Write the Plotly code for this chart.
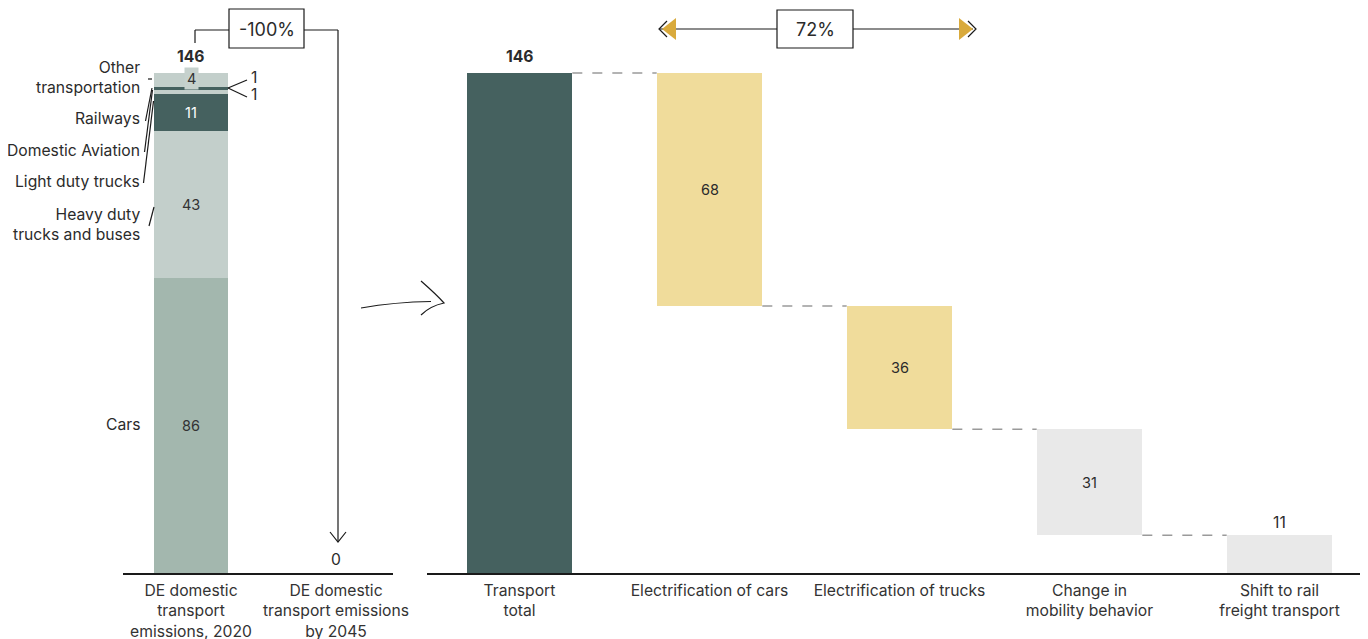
import plotly.graph_objects as go

# The page body adds an 8px offset; positions below are given in window pixels.
OFF = 8
W, H = 1368 - OFF, 639 - OFF
FIG_H = 639

# ---------------- data ----------------
left_categories = ["DE domestic<br>transport<br>emissions, 2020",
                   "DE domestic<br>transport emissions<br>by 2045"]
segment_names = ["Cars", "Heavy duty trucks and buses", "Light duty trucks",
                 "Domestic Aviation", "Railways", "Other transportation"]
segment_values = [86, 43, 11, 1, 1, 4]
segment_colors = ["#a3b7ae", "#c3cfcb", "#45615f", "#c3cfcb", "#45615f", "#c3cfcb"]
total_2020 = 146
total_2045 = 0

wf_categories = ["Transport<br>total", "Electrification of cars",
                 "Electrification of trucks", "Change in<br>mobility behavior",
                 "Shift to rail<br>freight transport"]
wf_values = [146, 68, 36, 31, 11]
wf_colors = ["#45615f", "#f0dc9b", "#f0dc9b", "#e9e9e9", "#e9e9e9"]
reduction_share = "72%"
reduction_total = "-100%"

# ---------------- helpers ----------------
def px(x):
    return min(max((x - OFF) / W, 0), 1)

def py(y):
    return min(max(1 - (y - OFF) / FIG_H, 0), 1)

TXT = "#2b2b2b"
FONT = "Inter"
FS = 15.7
fig = go.Figure()

# left stacked bar
base = 0
seg_bases = []
for v in segment_values:
    seg_bases.append(base)
    base += v
for name, v, b, c in zip(segment_names, segment_values, seg_bases, segment_colors):
    fig.add_trace(go.Bar(x=[0], y=[v], base=[b], width=0.517, marker_color=c,
                         marker_line_width=0, name=name, xaxis="x", yaxis="y",
                         hoverinfo="skip"))

# waterfall bars
wf_bases = [0]
level = wf_values[0]
for v in wf_values[1:]:
    level -= v
    wf_bases.append(level)
fig.add_trace(go.Bar(x=list(range(len(wf_values))), y=wf_values, base=wf_bases,
                     width=0.556, marker_color=wf_colors, marker_line_width=0,
                     xaxis="x2", yaxis="y2", hoverinfo="skip"))

ann = []
shapes = []

def text(x, y, t, xref="paper", yref="paper", xanchor="center", yanchor="middle",
         size=FS, color=TXT, align="center", **kw):
    d = dict(x=x, y=y, xref=xref, yref=yref, text=t, showarrow=False, xanchor=xanchor,
             yanchor=yanchor, align=align, font=dict(size=size, color=color, family=FONT))
    d.update(kw)
    ann.append(d)

# left segment labels
for i, (v, b) in enumerate(zip(segment_values, seg_bases)):
    if v < 2:
        continue
    col = "white" if segment_colors[i] == "#45615f" else "#333333"
    if i == len(segment_values) - 1:
        text(0, b + v / 2, str(v), "x", "y", color=col, size=14.5,
             bgcolor="#c6d1cd", borderpad=2, yshift=1)
    else:
        text(0, b + v / 2, str(v), "x", "y", color=col, size=14.5)
text(0, total_2020, "<b>146</b>", "x", "y", yanchor="bottom", yshift=5)
text(1, total_2045, str(total_2045), "x", "y", yanchor="bottom", yshift=2)

# left side labels (paper)
side_labels = [("Other<br>transportation", 77), ("Railways", 118), ("Domestic Aviation", 150),
               ("Light duty trucks", 182), ("Heavy duty<br>trucks and buses", 224), ("Cars", 424)]
for t, y in side_labels:
    text(px(142), py(y), t, xanchor="right", align="right")
for t, y in [("1", 77), ("1", 95)]:
    text(px(249), py(y), t, xanchor="left")

def line(x0, y0, x1, y1, color="#1a1a1a", width=1.2):
    shapes.append(dict(type="line", xref="paper", yref="paper", x0=px(x0), y0=py(y0),
                       x1=px(x1), y1=py(y1), line=dict(color=color, width=width)))

def path(points, closed=False, **kw):
    s = "M " + " L ".join("%f %f" % (px(a), py(b)) for a, b in points)
    if closed:
        s += " Z"
    d = dict(type="path", xref="paper", yref="paper", path=s)
    d.update(kw)
    shapes.append(d)

# leader lines
line(148, 79, 152, 79)
line(145.5, 121, 152, 88)
line(144.5, 152, 152.5, 90)
line(143.5, 183, 153.5, 101)
line(149, 226, 154, 207)
line(228, 88, 247, 80)
line(228, 88, 247, 97)

# waterfall labels
for i, (v, b) in enumerate(zip(wf_values, wf_bases)):
    if i == 0:
        text(i, v, "<b>%d</b>" % v, "x2", "y2", yanchor="bottom", yshift=5)
    elif i == len(wf_values) - 1:
        text(i, b + v, str(v), "x2", "y2", yanchor="bottom", yshift=1)
    else:
        text(i, b + v / 2, str(v), "x2", "y2", size=14.5)

# dashed connectors
hw = 0.556 / 2
for i in range(len(wf_values) - 1):
    lvl = wf_bases[i] if i > 0 else wf_values[0]
    shapes.append(dict(type="line", xref="x2", yref="y2", x0=i + hw, x1=i + 1 - hw,
                       y0=lvl, y1=lvl,
                       line=dict(color="#9a9a9a", width=1.5, dash="10px,10px")))

# -100% bracket
line(195, 43, 195, 30)
line(195, 30, 229, 30)
line(304, 30, 338, 30)
line(338, 30, 338, 542)
path([(330, 532), (338, 542), (346, 532)], line=dict(color="#1a1a1a", width=1.2))
shapes.append(dict(type="rect", xref="paper", yref="paper", x0=px(229), x1=px(304),
                   y0=py(48), y1=py(9), line=dict(color="#1a1a1a", width=1.2), fillcolor="white"))
text(px(266.5), py(29), reduction_total, size=18)

# 72% arrow
line(660, 29, 973, 29)
path([(662, 29), (676, 18), (676, 40)], closed=True, fillcolor="#d9aa3c", line=dict(width=0))
path([(973, 29), (959, 18), (959, 40)], closed=True, fillcolor="#d9aa3c", line=dict(width=0))
path([(667, 21), (659, 29), (667, 37)], line=dict(color="#1a1a1a", width=1.2))
path([(968, 21), (976, 29), (968, 37)], line=dict(color="#1a1a1a", width=1.2))
shapes.append(dict(type="rect", xref="paper", yref="paper", x0=px(777), x1=px(853),
                   y0=py(48), y1=py(10), line=dict(color="#1a1a1a", width=1.2), fillcolor="white"))
text(px(815), py(29), reduction_share, size=18)

# hand-drawn arrow
shapes.append(dict(type="path", xref="paper", yref="paper",
                   path="M %f %f Q %f %f %f %f" % (px(361), py(308), px(395), py(302), px(431), py(301.5)),
                   line=dict(color="#1a1a1a", width=1.2)))
shapes.append(dict(type="path", xref="paper", yref="paper",
                   path="M %f %f Q %f %f %f %f Q %f %f %f %f" % (
                       px(421), py(281), px(437), py(295), px(444), py(303),
                       px(430), py(306), px(421), py(315)),
                   line=dict(color="#1a1a1a", width=1.2)))

scale = 500 / 146          # pixels per unit
ybase = 573                # baseline pixel
ymax = (ybase - OFF) / scale
ydom = [1 - (ybase - OFF) / FIG_H, 1]
axis_common = dict(showgrid=False, zeroline=False, showline=True, linecolor="#1a1a1a",
                   linewidth=2, ticks="", tickfont=dict(size=FS, color="#333333", family=FONT),
                   fixedrange=True, automargin=False, ticklabelstandoff=2)
x2_left, x2_right = 427, 1363
x2_cat0, x2_step = 519.5, 190.0
fig.update_layout(
    width=W, height=FIG_H, autosize=False,
    margin=dict(l=0, r=0, t=0, b=0),
    paper_bgcolor="white", plot_bgcolor="white",
    barmode="overlay", showlegend=False, bargap=0,
    font=dict(family=FONT, color=TXT),
    xaxis=dict(domain=[px(123), px(393)], range=[-0.469, 1.393], tickvals=[0, 1],
               ticktext=left_categories, anchor="y", **axis_common),
    yaxis=dict(domain=ydom, range=[0, ymax], visible=False, anchor="x", fixedrange=True),
    xaxis2=dict(domain=[px(x2_left), px(x2_right)],
                range=[(x2_left - x2_cat0) / x2_step, (x2_right - x2_cat0) / x2_step],
                tickvals=list(range(5)), ticktext=wf_categories, anchor="y2", **axis_common),
    yaxis2=dict(domain=ydom, range=[0, ymax], visible=False, anchor="x2", fixedrange=True),
    annotations=ann, shapes=shapes,
)

fig.write_html("out.html")
